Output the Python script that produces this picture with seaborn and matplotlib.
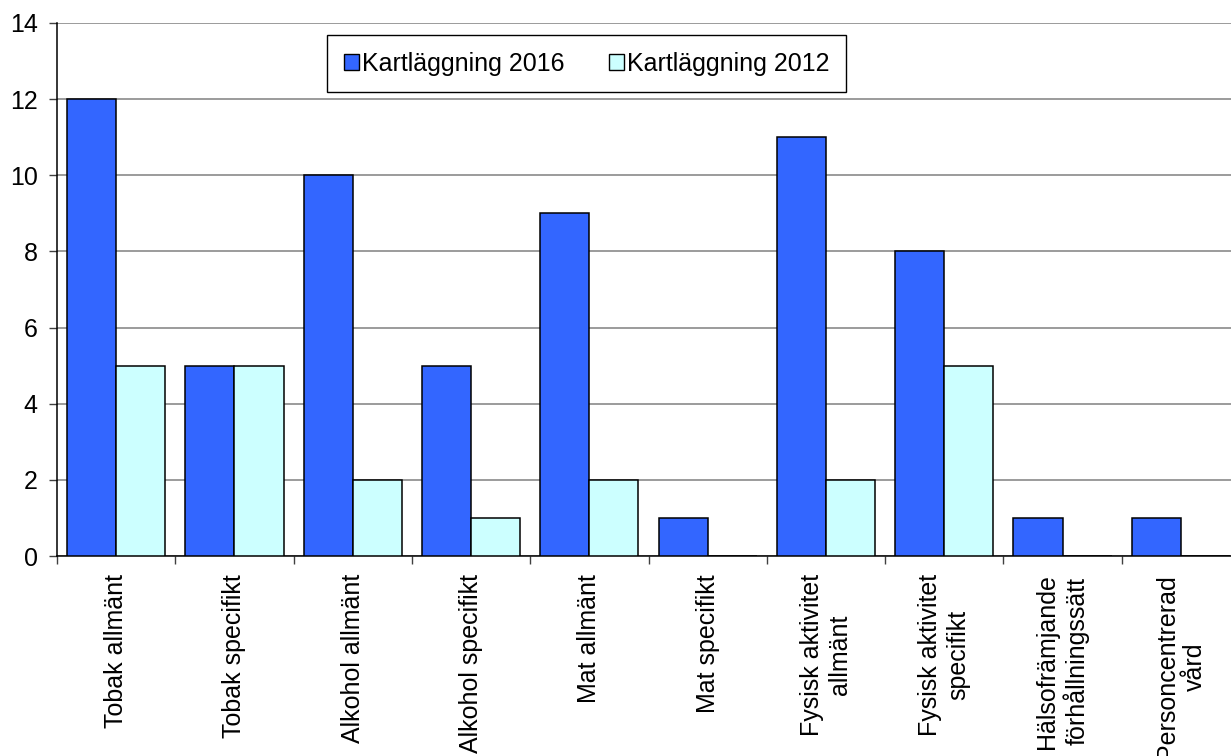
import matplotlib
matplotlib.use("Agg")
import matplotlib.pyplot as plt
from matplotlib.patches import Patch
from matplotlib.ticker import FixedLocator, NullFormatter
import seaborn as sns
import pandas as pd

categories = [
    "Tobak allmänt",
    "Tobak specifikt",
    "Alkohol allmänt",
    "Alkohol specifikt",
    "Mat allmänt",
    "Mat specifikt",
    "Fysisk aktivitet\nallmänt",
    "Fysisk aktivitet\nspecifikt",
    "Hälsofrämjande\nförhållningssätt",
    "Personcentrerad\nvård",
]
series_names = ["Kartläggning 2016", "Kartläggning 2012"]
values_2016 = [12, 5, 10, 5, 9, 1, 11, 8, 1, 1]
values_2012 = [5, 5, 2, 1, 2, 0, 2, 5, 0, 0]
y_ticks = [0, 2, 4, 6, 8, 10, 12, 14]

colors = ["#3366FF", "#CCFFFF"]

df = pd.DataFrame({
    "kategori": categories * 2,
    "serie": [series_names[0]] * len(categories) + [series_names[1]] * len(categories),
    "antal": values_2016 + values_2012,
})

sns.set_theme(style="white")
plt.rcParams["font.family"] = ["Liberation Sans", "DejaVu Sans"]
plt.rcParams["text.color"] = "black"
plt.rcParams["xtick.color"] = "black"
plt.rcParams["ytick.color"] = "black"
plt.rcParams["xtick.labelcolor"] = "black"
plt.rcParams["ytick.labelcolor"] = "black"
FS = 18

fig = plt.figure(figsize=(12.31, 7.56), dpi=100)
W, H = 1231, 756
x0, x1, y0, y1 = 57, 1240, 23, 556
ax = fig.add_axes([x0 / W, 1 - y1 / H, (x1 - x0) / W, (y1 - y0) / H])

sns.barplot(
    data=df, x="kategori", y="antal", hue="serie",
    order=categories, hue_order=series_names,
    palette=colors, saturation=1, width=0.83, gap=0,
    edgecolor="black", linewidth=1.1,
    legend=False, ax=ax, zorder=3,
)

ax.set_xlim(-0.5, len(categories) - 0.5)
ax.set_ylim(0, 14)
ax.yaxis.set_major_locator(FixedLocator(y_ticks))
ax.set_yticklabels([str(v) for v in y_ticks], fontsize=FS)
ax.grid(axis="y", color="#808080", linewidth=1.1, zorder=0)
ax.grid(axis="x", visible=False)
ax.set_axisbelow(True)

ax.set_xlabel("")
ax.set_ylabel("")
ax.set_xticks(range(len(categories)))
ax.set_xticklabels(categories, rotation=90, fontsize=FS, ha="center", va="top",
                   multialignment="center", linespacing=1.2)
ax.tick_params(axis="x", which="major", length=0, pad=13)
ax.xaxis.set_minor_locator(FixedLocator([i - 0.5 for i in range(len(categories) + 1)]))
ax.xaxis.set_minor_formatter(NullFormatter())
ax.tick_params(axis="x", which="minor", length=6, width=1, color="#404040", direction="out", bottom=True)
ax.tick_params(axis="y", which="major", length=6, width=1, color="#404040", direction="out", left=True, pad=8)

for side in ("top", "right"):
    ax.spines[side].set_visible(False)
for side in ("left", "bottom"):
    ax.spines[side].set_color("black")
    ax.spines[side].set_linewidth(1.1)

handles = [Patch(facecolor=c, edgecolor="black", linewidth=1.0) for c in colors]
leg = ax.legend(
    handles, series_names, loc="upper left",
    bbox_to_anchor=(327 / W, 1 - 35 / H), bbox_transform=fig.transFigure,
    ncol=2, fontsize=FS, frameon=True, fancybox=False, framealpha=1,
    handlelength=0.6, handleheight=0.6, handletextpad=0.15, columnspacing=1.75,
    borderpad=0.66, borderaxespad=0,
)
leg.get_frame().set_edgecolor("black")
leg.get_frame().set_linewidth(1.0)

fig.savefig("out.png", dpi=100, facecolor="white")
